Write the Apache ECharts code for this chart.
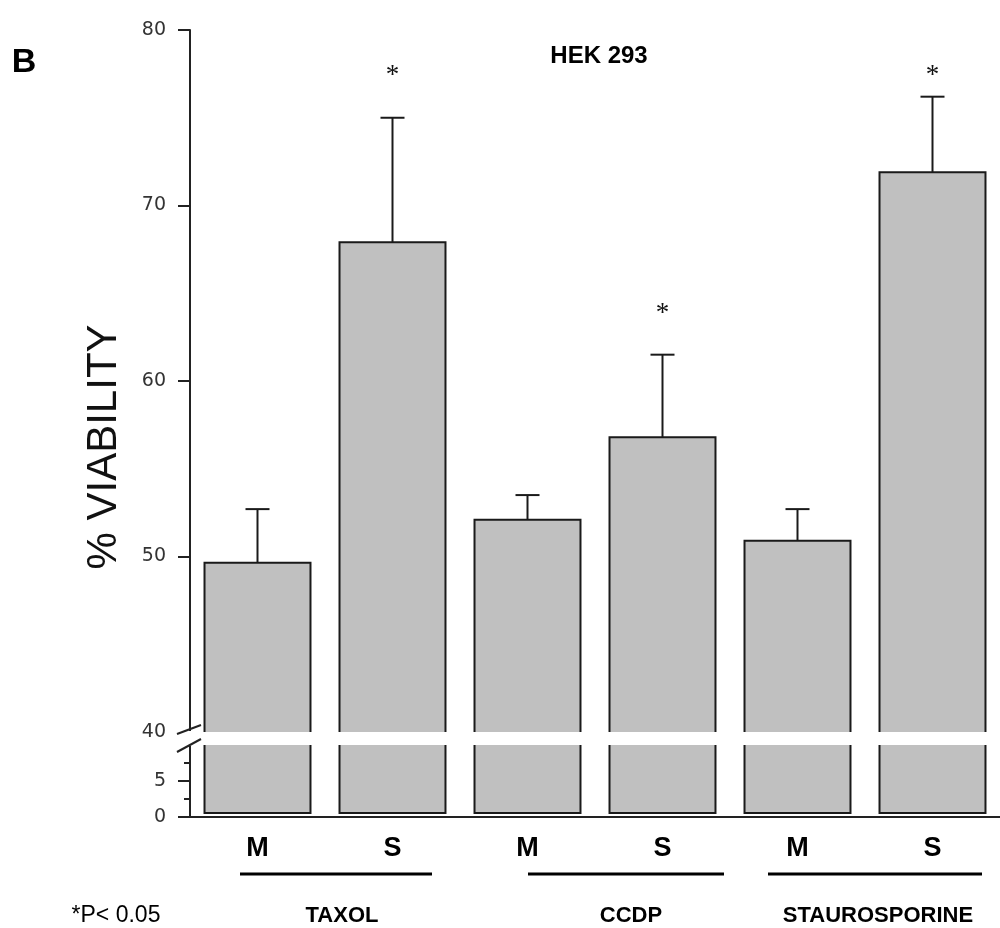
<!DOCTYPE html>
<html>
<head>
<meta charset="utf-8">
<script src="https://cdn.jsdelivr.net/npm/echarts@6/dist/echarts.min.js"></script>
<style>
  html, body { margin: 0; padding: 0; background: #fff; }
  #grafico { width: 1000px; height: 928px; }
</style>
</head>
<body>
<div id="grafico"></div>
<script>
// dados
var barras = ['M', 'S', 'M', 'S', 'M', 'S'];
var viabilidade = [49.65, 67.9, 52.1, 56.8, 50.9, 71.9];
var erroTopo = [52.7, 75.0, 53.5, 61.5, 52.7, 76.2];
var asterisco = [null, 77.4, null, 63.8, null, 77.4];
var grupos = ['TAXOL', 'CCDP', 'STAUROSPORINE'];
var ticksCima = [50, 60, 70, 80];
var ticksBaixo = [0, 5];

var corBarra = '#c0c0c0';
var corLinha = '#1a1a1a';
var largura = 0.785;

var dadosCima = [];
var dadosBaixo = [];
for (var i = 0; i < barras.length; i++) {
  dadosCima.push([i, viabilidade[i], erroTopo[i], asterisco[i] == null ? '-' : asterisco[i]]);
  dadosBaixo.push([i, viabilidade[i]]);
}

function desenhaCima(params, api) {
  var i = api.value(0);
  var base = api.coord([i, 40]);
  var topo = api.coord([i, api.value(1)]);
  var erro = api.coord([i, api.value(2)]);
  var w = api.size([1, 0])[0] * largura;
  var x0 = topo[0] - w / 2, x1 = topo[0] + w / 2;
  var filhos = [
    { type: 'rect', shape: { x: x0, y: topo[1], width: w, height: base[1] - topo[1] }, style: { fill: corBarra } },
    { type: 'polyline', shape: { points: [[x0, base[1]], [x0, topo[1]], [x1, topo[1]], [x1, base[1]]] },
      style: { stroke: corLinha, lineWidth: 2, fill: null } },
    { type: 'line', shape: { x1: topo[0], y1: topo[1], x2: topo[0], y2: erro[1] }, style: { stroke: corLinha, lineWidth: 2 } },
    { type: 'line', shape: { x1: topo[0] - 12, y1: erro[1], x2: topo[0] + 12, y2: erro[1] }, style: { stroke: corLinha, lineWidth: 2 } }
  ];
  var est = api.value(3);
  if (!isNaN(est)) {
    var p = api.coord([i, est]);
    filhos.push({ type: 'text', x: p[0], y: p[1],
      style: { text: '*', fill: '#111', font: '27px "Liberation Serif", serif', align: 'center', verticalAlign: 'middle' } });
  }
  return { type: 'group', children: filhos };
}

function desenhaBaixo(params, api) {
  var i = api.value(0);
  var base = api.coord([i, 0]);
  var topo = api.coord([i, Math.min(api.value(1), 10)]);
  var w = api.size([1, 0])[0] * largura;
  var x0 = base[0] - w / 2, x1 = base[0] + w / 2;
  var fundo = base[1] - 4;
  return { type: 'group', children: [
    { type: 'rect', shape: { x: x0, y: topo[1], width: w, height: fundo - topo[1] }, style: { fill: corBarra } },
    { type: 'polyline', shape: { points: [[x0, topo[1]], [x0, fundo], [x1, fundo], [x1, topo[1]]] },
      style: { stroke: corLinha, lineWidth: 2, fill: null } }
  ] };
}

var chartDom = document.getElementById('grafico');
var myChart = echarts.init(chartDom);

var fonteEixo = { color: '#333', fontSize: 19, fontFamily: 'DejaVu Sans' };

var option = {
  backgroundColor: '#fff',
  animation: false,
  grid: [
    { left: 190, right: 0, top: 30, height: 702 },
    { left: 190, right: 0, top: 745, height: 72 }
  ],
  xAxis: [
    { type: 'category', gridIndex: 0, data: barras, show: false },
    {
      type: 'category', gridIndex: 1, data: barras,
      axisLine: { lineStyle: { color: '#222', width: 2 } },
      axisTick: { inside: true, length: 5, lineStyle: { color: '#222', width: 2 } },
      axisLabel: { margin: 18, color: '#000', fontSize: 27, fontWeight: 'bold', fontFamily: '"Liberation Sans Narrow", "Liberation Sans", Arial' }
    }
  ],
  yAxis: [
    {
      type: 'value', gridIndex: 0, min: 40, max: 80, interval: 10,
      splitLine: { show: false },
      axisLine: { show: true, lineStyle: { color: '#222', width: 2 } },
      axisTick: { show: true, length: 12, customValues: ticksCima, lineStyle: { color: '#222', width: 2 } },
      axisLabel: Object.assign({ margin: 24 }, fonteEixo)
    },
    {
      type: 'value', gridIndex: 1, min: 0, max: 10, interval: 5,
      splitLine: { show: false },
      axisLine: { show: true, lineStyle: { color: '#222', width: 2 } },
      axisTick: { show: true, length: 12, customValues: ticksBaixo, lineStyle: { color: '#222', width: 2 } },
      minorTick: { show: true, splitNumber: 2, length: 6, lineStyle: { color: '#222', width: 2 } },
      axisLabel: Object.assign({ margin: 24, customValues: ticksBaixo }, fonteEixo)
    }
  ],
  series: [
    { type: 'custom', xAxisIndex: 0, yAxisIndex: 0, renderItem: desenhaCima, data: dadosCima, clip: false },
    { type: 'custom', xAxisIndex: 1, yAxisIndex: 1, renderItem: desenhaBaixo, data: dadosBaixo, clip: false }
  ]
};

option && myChart.setOption(option);

// quebra do eixo, rotulos e grupos
var xEixo = 190;
var yQuebra1 = myChart.convertToPixel({ yAxisIndex: 0 }, 40);
var yQuebra2 = myChart.convertToPixel({ yAxisIndex: 1 }, 10);
var fonteGrupo = 'bold 22px "Liberation Sans Narrow", "Liberation Sans", Arial';
var posGrupos = [[240, 432, 342], [528, 724, 631], [768, 982, 878]];

var graficos = [
  { type: 'rect', shape: { x: xEixo - 1, y: yQuebra1 - 1, width: 12, height: yQuebra2 - yQuebra1 + 2 }, style: { fill: '#fff' }, z: 100 },
  { type: 'line', shape: { x1: xEixo - 13, y1: yQuebra1 + 2, x2: xEixo + 11, y2: yQuebra1 - 7 }, style: { stroke: '#222', lineWidth: 2 }, z: 101 },
  { type: 'line', shape: { x1: xEixo - 13, y1: yQuebra2 + 7, x2: xEixo + 11, y2: yQuebra2 - 6 }, style: { stroke: '#222', lineWidth: 2 }, z: 101 },
  { type: 'text', x: 24, y: 63, style: { text: 'B', font: 'bold 34px "Liberation Sans", Arial', fill: '#000', align: 'center', verticalAlign: 'middle' } },
  { type: 'text', x: 599, y: 56, style: { text: 'HEK 293', font: 'bold 24px "Liberation Sans", Arial', fill: '#000', align: 'center', verticalAlign: 'middle' } },
  { type: 'text', x: 104, y: 447, rotation: Math.PI / 2,
    style: { text: '% VIABILITY', font: '42px "Liberation Sans", Arial', fill: '#111', align: 'center', verticalAlign: 'middle' } },
  { type: 'text', x: 116, y: 916, style: { text: '*P< 0.05', font: '23px "Liberation Sans Narrow", "Liberation Sans", Arial', fill: '#000', align: 'center', verticalAlign: 'middle' } }
];
for (var g = 0; g < grupos.length; g++) {
  var pg = posGrupos[g];
  graficos.push({ type: 'line', shape: { x1: pg[0], y1: 874, x2: pg[1], y2: 874 }, style: { stroke: '#000', lineWidth: 3 } });
  graficos.push({ type: 'text', x: pg[2], y: 916, style: { text: grupos[g], font: fonteGrupo, fill: '#000', align: 'center', verticalAlign: 'middle' } });
}
myChart.setOption({ graphic: graficos });
</script>
</body>
</html>
